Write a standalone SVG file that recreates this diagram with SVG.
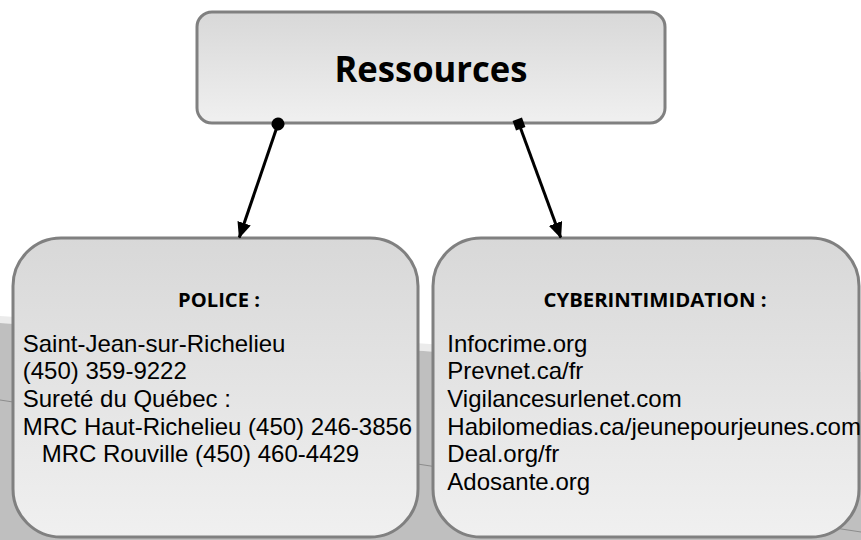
<svg xmlns="http://www.w3.org/2000/svg" width="861" height="540" viewBox="0 0 861 540">
  <defs>
    <linearGradient id="boxGrad" x1="0" y1="0" x2="0" y2="1">
      <stop offset="0" stop-color="#d8d8d8"/>
      <stop offset="1" stop-color="#f0f0f0"/>
    </linearGradient>
    <marker id="arrow" viewBox="0 0 16 14" refX="15" refY="7" markerWidth="16" markerHeight="14" markerUnits="userSpaceOnUse" orient="auto">
      <path d="M0,0 L16,7 L0,14 Z" fill="#000"/>
    </marker>
    <marker id="dot" viewBox="0 0 14 14" refX="7" refY="7" markerWidth="14" markerHeight="14" markerUnits="userSpaceOnUse" orient="auto">
      <circle cx="7" cy="7" r="6.5" fill="#000"/>
    </marker>
    <marker id="square" viewBox="0 0 12 12" refX="6" refY="6" markerWidth="12" markerHeight="12" markerUnits="userSpaceOnUse" orient="auto">
      <rect x="1" y="1" width="10" height="10" fill="#000"/>
    </marker>
  </defs>
  <style>
    .box { fill: url(#boxGrad); stroke: #808080; stroke-width: 3; }
    .title { font-family: "Open Sans", "Liberation Sans", sans-serif; font-weight: bold; fill: #000; }
    .body { font-family: "Liberation Sans", Arial, sans-serif; font-size: 24px; fill: #000; }
    .conn { stroke: #000; stroke-width: 3; fill: none; }
  </style>
  <rect width="861" height="540" fill="#ffffff"/>
  <g id="background">
    <polygon points="0,316 861,372 861,380 0,323" fill="#ebebeb"/>
    <polygon points="0,323 861,380 861,540 0,540" fill="#bfbfbf"/>
    <line x1="0" y1="400" x2="861" y2="532" stroke="#8c8c8c" stroke-width="1"/>
  </g>
  <g id="node-ressources">
    <rect class="box" x="197" y="12" width="468" height="111" rx="15" ry="15" stroke-width="4"/>
    <text class="title" x="431" y="82" font-size="35" text-anchor="middle" textLength="193" lengthAdjust="spacingAndGlyphs">Ressources</text>
  </g>
  <g id="node-police">
    <rect class="box" x="13" y="238" width="405" height="299" rx="48" ry="48"/>
    <text class="title" x="219" y="307" font-size="20" text-anchor="middle" textLength="82" lengthAdjust="spacingAndGlyphs">POLICE :</text>
    <text class="body" x="22.7" y="351.7">Saint-Jean-sur-Richelieu</text>
    <text class="body" x="22.7" y="379.3">(450) 359-9222</text>
    <text class="body" x="22.7" y="406.9">Sureté du Québec :</text>
    <text class="body" x="22.7" y="434.5">MRC Haut-Richelieu (450) 246-3856</text>
    <text class="body" x="41.7" y="462.1">MRC Rouville (450) 460-4429</text>
  </g>
  <g id="node-cyber">
    <rect class="box" x="433" y="238" width="426" height="299" rx="48" ry="48"/>
    <text class="title" x="655" y="307" font-size="20" text-anchor="middle" textLength="223" lengthAdjust="spacingAndGlyphs">CYBERINTIMIDATION :</text>
    <text class="body" x="447.3" y="351.7">Infocrime.org</text>
    <text class="body" x="447.3" y="379.3">Prevnet.ca/fr</text>
    <text class="body" x="447.3" y="406.9">Vigilancesurlenet.com</text>
    <text class="body" x="447.3" y="434.5">Habilomedias.ca/jeunepourjeunes.com</text>
    <text class="body" x="447.3" y="462.1">Deal.org/fr</text>
    <text class="body" x="447.3" y="489.7">Adosante.org</text>
  </g>
  <g id="connectors">
    <line class="conn" x1="278" y1="124" x2="239.3" y2="237.5" marker-start="url(#dot)" marker-end="url(#arrow)"/>
    <line class="conn" x1="519" y1="124" x2="560.7" y2="237.5" marker-start="url(#square)" marker-end="url(#arrow)"/>
  </g>
</svg>
